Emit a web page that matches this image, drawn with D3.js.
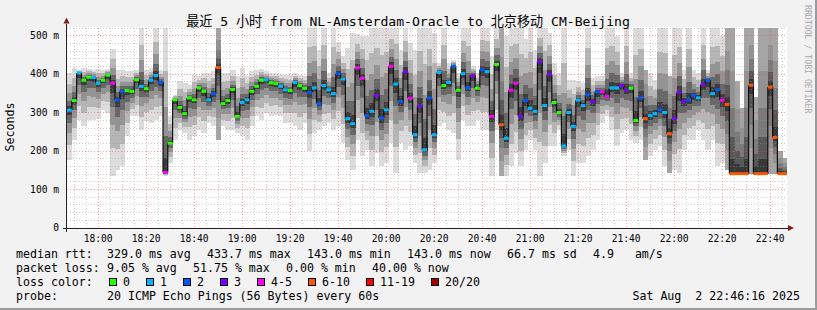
<!DOCTYPE html>
<html><head><meta charset="utf-8">
<script src="https://cdn.jsdelivr.net/npm/d3@7"></script>
<style>
body{margin:0;background:#f2f2f2;overflow:hidden}
svg text{font-family:"DejaVu Sans Mono","Noto Sans CJK SC",monospace;fill:#000}
</style></head><body>
<svg id="c" width="817" height="310"></svg>
<script>
const title = "最近 5 小时 from NL-Amsterdam-Oracle to 北京移动 CM-Beijing";
const yAxisTitle = "Seconds";
const watermark = "RRDTOOL / TOBI OETIKER";
const startTime = new Date(2025, 7, 2, 17, 48);
const stepMinutes = 2;
const domainStart = new Date(2025, 7, 2, 17, 47);
const domainEnd = new Date(2025, 7, 2, 22, 47);

const median = [
 305,330,402,383,391,390,375,383,396,375,
 332,354,356,354,384,367,361,383,395,377,
 143,219,332,312,296,337,332,363,354,332,
 348,416,322,330,359,289,325,332,
 354,367,383,384,376,374,367,358,356,377,369,362,
 351,363,322,369,358,348,400,386,283,270,
 415,388,291,302,343,285,306,419,373,328,
 405,336,241,315,202,
 337,241,403,369,377,419,357,400,364,395,
 362,410,405,289,424,267,232,357,375,289,
 330,310,302,431,317,398,325,299,212,299,
 263,331,317,345,328,353,353,341,
 363,363,369,358,362,278,337,283,291,296,
 306,299,244,283,351,328,332,344,337,372,
 383,348,358,331,320,140,140,140,140,370,
 140,140,140,365,234,140,140];
const lossIdx = [
 1,0,1,0,0,1,1,0,0,4,
 2,2,0,0,0,1,0,1,1,2,
 4,0,0,0,0,0,0,0,0,1,
 2,5,0,0,0,0,1,1,
 0,0,0,1,0,0,1,1,0,1,0,0,
 2,1,2,1,1,1,2,1,1,1,
 4,4,2,1,3,2,1,4,1,2,
 3,4,1,3,1,
 2,1,1,0,1,2,0,1,2,3,
 0,2,1,4,0,5,1,4,4,3,
 2,1,1,3,1,3,0,0,1,1,
 1,1,1,2,3,2,4,4,
 1,1,3,3,0,0,2,5,1,1,
 2,1,5,3,3,3,2,2,1,3,
 2,1,2,4,5,5,5,5,5,5,
 5,5,5,5,5,5,5];
const smokeLo = [
 176,228,280,263,280,280,282,306,298,133,
 150,159,237,289,289,254,276,272,280,289,
 133,167,228,254,245,228,237,254,245,272,
 263,228,263,254,254,245,237,228,
 263,289,280,298,289,293,289,272,272,263,254,272,
 198,245,254,263,272,254,263,219,176,150,
 228,185,202,159,193,159,167,219,141,219,
 202,211,167,141,141,
 150,167,263,272,254,245,176,280,263,263,
 280,254,254,133,254,133,133,159,193,159,
 202,228,202,133,167,211,211,254,185,202,
 133,167,167,185,202,228,272,289,
 254,211,245,254,228,219,228,176,185,202,
 211,159,141,150,141,202,228,228,254,228,
 202,228,159,167,150,150,140,138,138,138,
 138,138,138,138,138,138,138];
const smokeHi = [
 402,415,410,415,412,410,412,410,412,465,
 410,410,406,406,410,520,410,415,520,410,
 520,289,345,380,376,371,397,393,402,402,
 406,520,402,402,410,393,415,393,
 406,410,412,406,403,402,397,397,397,403,397,393,
 520,520,462,520,402,520,482,445,467,506,
 504,497,497,520,520,520,520,520,520,462,
 520,480,462,520,520,
 520,506,428,520,428,436,402,520,520,419,
 402,520,520,445,520,520,497,520,520,520,
 489,520,462,520,520,506,428,402,520,384,
 384,380,376,520,389,393,393,520,
 520,497,402,520,402,520,520,410,402,384,
 520,520,393,520,520,410,520,410,402,520,
 410,520,520,497,520,520,380,310,520,520,
 340,520,520,520,520,200,180];

const yTicks = [0,100,200,300,400,500];
const yTickLabels = ["0","100 m","200 m","300 m","400 m","500 m"];
const xTickLabels = ["18:00","18:20","18:40","19:00","19:20","19:40","20:00","20:20","20:40","21:00","21:20","21:40","22:00","22:20","22:40"];
const lossLabels = ["0","1","2","3","4-5","6-10","11-19","20/20"];
const lossColors = ["#26ff00","#00b8ff","#0059ff","#7e00ff","#ff00ff","#ff5500","#ff0000","#a10000"];
const statsRttLabel = "median rtt:";
const statsRtt = ["329.0 ms avg","433.7 ms max","143.0 ms min","143.0 ms now","66.7 ms sd","4.9   am/s"];
const statsLossLabel = "packet loss:";
const statsLoss = ["9.05 % avg","51.75 % max","0.00 % min","40.00 % now"];
const lossColorLabel = "loss color:";
const probeLabel = "probe:";
const probeText = "20 ICMP Echo Pings (56 Bytes) every 60s";
const dateText = "Sat Aug  2 22:46:16 2025";

const svg = d3.select("#c");
const W = 817, H = 310;
const L = 67, R = 787, T = 27.5, B = 227.5;

svg.append("rect").attr("width",W).attr("height",H).attr("fill","#f2f2f2");
svg.append("path").attr("d",`M${W-1},0V${H-1}H0`).attr("fill","none").attr("stroke","#9b9b9b").attr("stroke-width",2);

const x = d3.scaleTime().domain([domainStart, domainEnd]).range([L, R]);
const y = d3.scaleLinear().domain([0, 520]).range([B, T]);

svg.append("rect").attr("x",L).attr("y",T).attr("width",R-L).attr("height",B-T).attr("fill","#fff");

svg.append("defs").append("clipPath").attr("id","pc")
  .append("rect").attr("x",L).attr("y",T).attr("width",R-L).attr("height",B-T);

const data = median.map((m,i)=>({t:d3.timeMinute.offset(startTime, stepMinutes*i), m, l:lossIdx[i], lo:smokeLo[i], hi:smokeHi[i]}));
const halfW = (x(d3.timeMinute.offset(startTime, stepMinutes)) - x(startTime))/2;

const plot = svg.append("g").attr("clip-path","url(#pc)");
const fr = [1, 0.7, 0.45, 0.25, 0.1];
const shadesNormal = ["#dcdcdc","#b6b6b6","#939393","#676767","#3c3c3c"];
const shadesLoss = ["#a5a5a5","#929292","#7a7a7a","#585858","#383838"];
fr.forEach((f,k)=>{
  plot.append("g").selectAll("rect").data(data).join("rect")
    .attr("shape-rendering","crispEdges")
    .attr("x",d=>x(d.t)-halfW).attr("width",halfW*2+0.5)
    .attr("y",d=>y(d.m+(d.hi-d.m)*f))
    .attr("height",d=>Math.max(0,y(d.m-(d.m-d.lo)*f)-y(d.m+(d.hi-d.m)*f)))
    .attr("fill",d=>(d.l>=5?shadesLoss:shadesNormal)[k]);
});

// grid
const grid = svg.append("g").attr("shape-rendering","crispEdges");
const minorY = d3.range(20, 521, 20).filter(v=>v%100!==0);
grid.selectAll(".hy").data(minorY).join("line")
  .attr("x1",L).attr("x2",R).attr("y1",d=>Math.round(y(d))+0.5).attr("y2",d=>Math.round(y(d))+0.5)
  .attr("stroke","rgba(150,150,150,0.45)").attr("stroke-dasharray","1,2");
const minorX = d3.timeMinute.every(5).range(domainStart, domainEnd).filter(t=>t.getMinutes()%20!==0);
grid.selectAll(".vx").data(minorX).join("line")
  .attr("y1",T).attr("y2",B).attr("x1",d=>Math.round(x(d))+0.5).attr("x2",d=>Math.round(x(d))+0.5)
  .attr("stroke","rgba(150,150,150,0.45)").attr("stroke-dasharray","1,2");
grid.selectAll(".my").data(yTicks.slice(1)).join("line")
  .attr("x1",L).attr("x2",R).attr("y1",d=>Math.round(y(d))+0.5).attr("y2",d=>Math.round(y(d))+0.5)
  .attr("stroke","rgba(255,70,70,0.5)").attr("stroke-dasharray","1,2");
const xTickTimes = xTickLabels.map(s=>{const [h,m]=s.split(":").map(Number);return new Date(2025,7,2,h,m);});
grid.selectAll(".mx").data(xTickTimes).join("line")
  .attr("y1",T).attr("y2",B).attr("x1",d=>Math.round(x(d))+0.5).attr("x2",d=>Math.round(x(d))+0.5)
  .attr("stroke","rgba(255,70,70,0.5)").attr("stroke-dasharray","1,2");

// median line
const med = svg.append("g").attr("clip-path","url(#pc)");
med.selectAll("line").data(data.slice(0,-1)).join("line")
  .attr("x1",d=>x(d.t)+halfW).attr("x2",d=>x(d.t)+halfW)
  .attr("y1",d=>y(d.m)).attr("y2",(d,i)=>y(data[i+1].m))
  .attr("stroke","#111").attr("stroke-width",1.2);
med.selectAll("rect").data(data).join("rect")
  .attr("x",d=>x(d.t)-halfW).attr("width",halfW*2)
  .attr("y",d=>y(d.m)-1.5).attr("height",3)
  .attr("fill",d=>lossColors[d.l]);

// axes
const ax = svg.append("g");
ax.append("line").attr("x1",L-4).attr("x2",R+3).attr("y1",B+0.5).attr("y2",B+0.5).attr("stroke","#222").attr("shape-rendering","crispEdges");
ax.append("line").attr("x1",L-0.5).attr("x2",L-0.5).attr("y1",B+4).attr("y2",T-4).attr("stroke","#222").attr("shape-rendering","crispEdges");
ax.append("path").attr("d",`M${R+1},${B-2.5}L${R+7},${B+0.5}L${R+1},${B+3.5}Z`).attr("fill","#8b1a1a");
ax.append("path").attr("d",`M${L-3.5},${T-4}L${L-0.5},${T-10}L${L+2.5},${T-4}Z`).attr("fill","#8b1a1a");

// axis labels
const fAxis = "9.6px";
svg.append("g").selectAll("text").data(yTicks).join("text")
  .attr("x",59).attr("y",d=>y(d)+3.5).attr("text-anchor","end").attr("font-size",fAxis)
  .text((d,i)=>yTickLabels[i]);
svg.append("g").selectAll("text").data(xTickTimes).join("text")
  .attr("x",d=>x(d)).attr("y",241.5).attr("text-anchor","middle").attr("font-size",fAxis)
  .text((d,i)=>xTickLabels[i]);

svg.append("text").attr("x",408).attr("y",25.5).attr("text-anchor","middle").attr("font-size","13.1px").text(title);
svg.append("text").attr("transform","translate(14,127) rotate(-90)").attr("text-anchor","middle").attr("font-size","11.6px").text(yAxisTitle);
svg.append("text").attr("transform","translate(804.5,5) rotate(90)").attr("font-size","8.2px").style("fill","#a8a8a8").text(watermark);

// legend
const fL = "11.6px", cw = 7, gap = 16, col = 107;
const rows = [258, 272, 286, 300];
const lg = svg.append("g").attr("font-size",fL);
function put(txt, xx, yy){ lg.append("text").attr("x",xx).attr("y",yy).style("white-space","pre").text(txt); return xx + txt.length*cw; }
put(statsRttLabel, 16, rows[0]);
let cx = col;
statsRtt.forEach(s=>{ cx = put(s, cx, rows[0]) + gap; });
put(statsLossLabel, 16, rows[1]);
cx = col;
statsLoss.forEach(s=>{ cx = put(s, cx, rows[1]) + gap; });
put(lossColorLabel, 16, rows[2]);
cx = col;
lossLabels.forEach((s,i)=>{
  lg.append("rect").attr("x",cx+2.5).attr("y",rows[2]-7.5).attr("width",7).attr("height",7)
    .attr("fill",lossColors[i]).attr("stroke","#000").attr("stroke-width",1);
  cx = put(s, cx+16, rows[2]) + 14;
});
put(probeLabel, 16, rows[3]);
put(probeText, col, rows[3]);
lg.append("text").attr("x",800).attr("y",rows[3]).attr("text-anchor","end").style("white-space","pre").text(dateText);
</script>
</body></html>
